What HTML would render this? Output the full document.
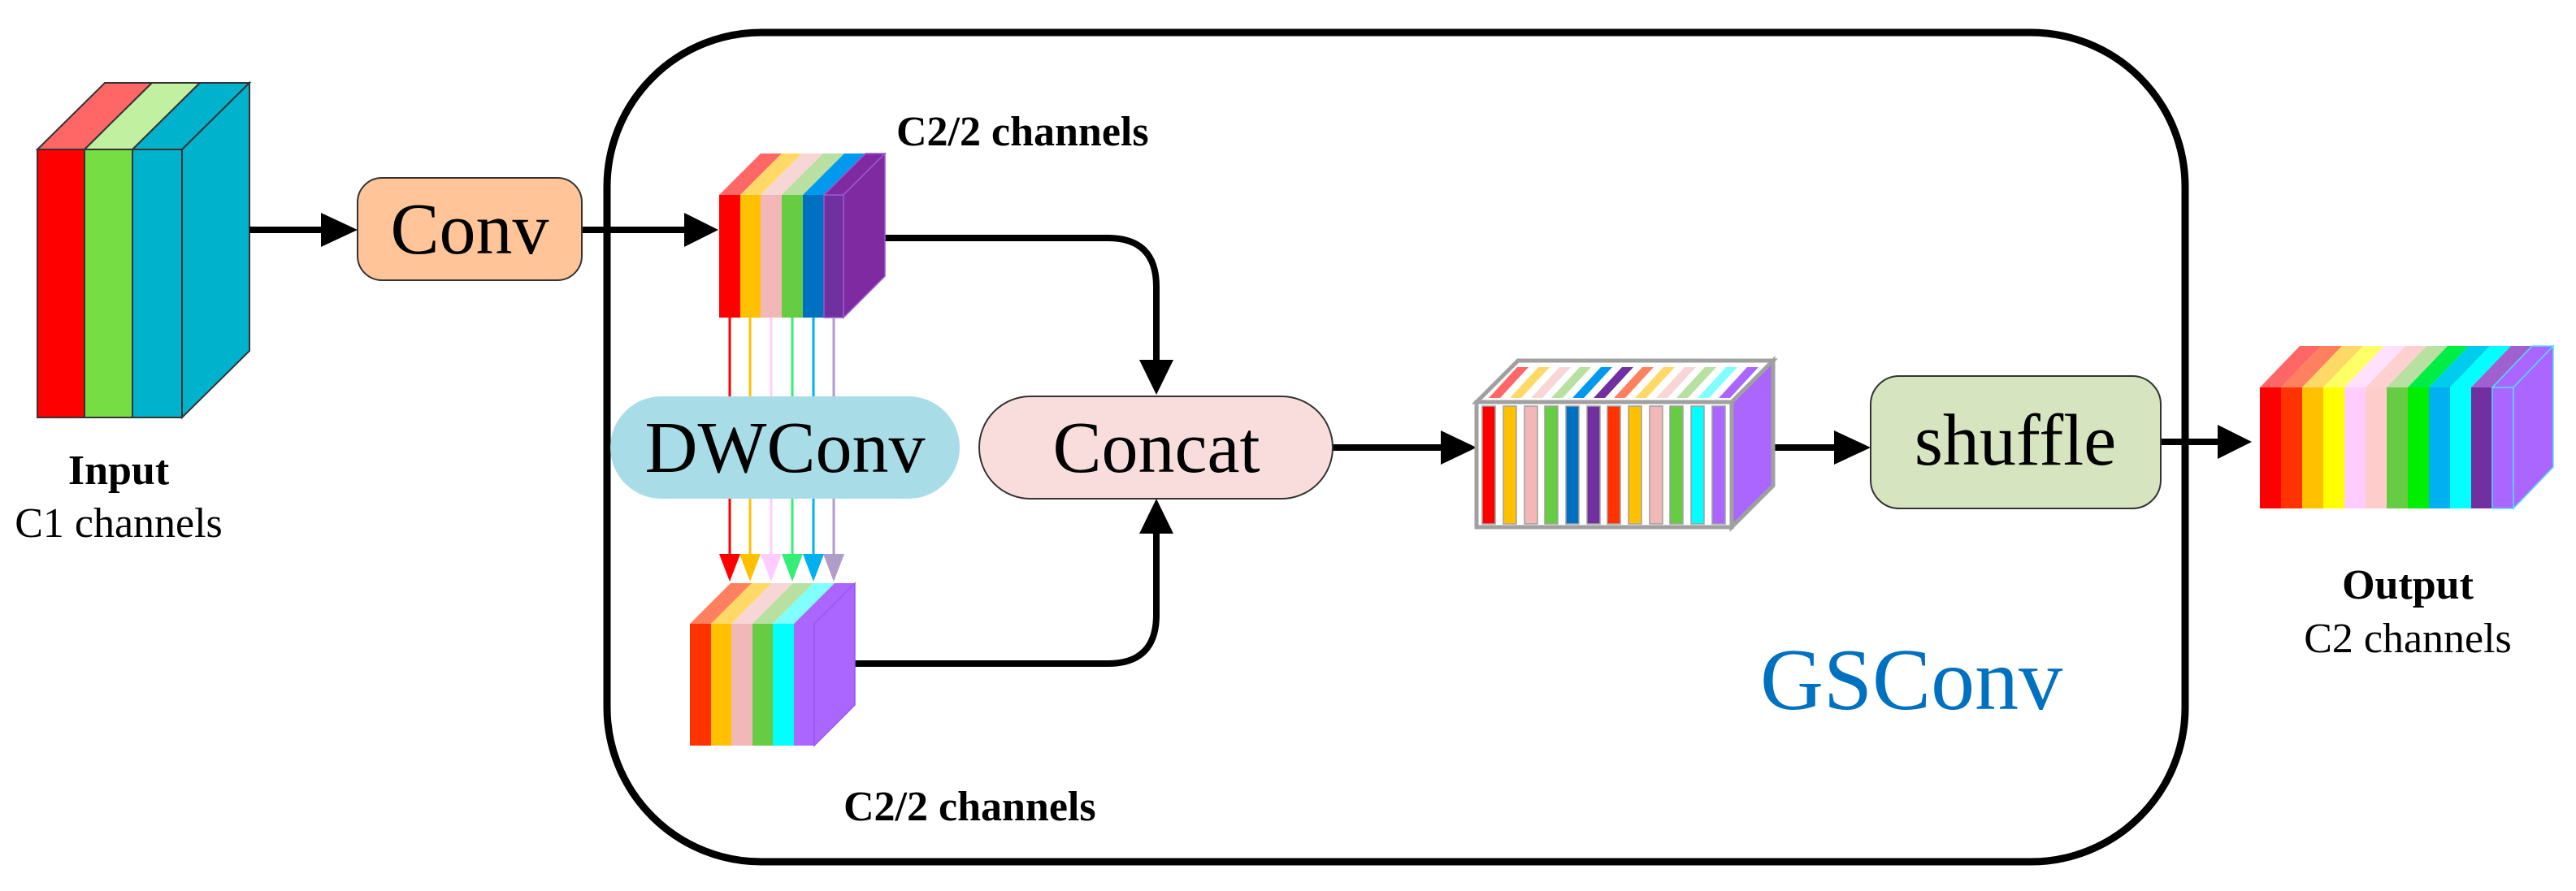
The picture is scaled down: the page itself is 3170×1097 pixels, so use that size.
<!DOCTYPE html>
<html><head><meta charset="utf-8"><style>
html,body{margin:0;padding:0;background:#fff;}
svg{display:block;font-family:"Liberation Serif","Times New Roman","DejaVu Serif",serif;}
svg text{font-family:"Liberation Serif","Times New Roman","DejaVu Serif",serif;}
</style></head><body>
<svg width="3170" height="1097" viewBox="0 0 3170 1097" xmlns="http://www.w3.org/2000/svg" font-family="Liberation Serif, Times New Roman, DejaVu Serif, serif">
<!-- GSConv frame -->
<rect x="747" y="40" width="1942" height="1021" rx="190" ry="190" fill="none" stroke="#000" stroke-width="9"/>

<!-- Input cube -->
<g stroke="#333" stroke-width="2">
<rect x="46" y="184" width="58" height="330" fill="#ff0000"/>
<rect x="104" y="184" width="59" height="330" fill="#77dd44"/>
<rect x="163" y="184" width="61" height="330" fill="#00b2cc"/>
<polygon points="46,184 104,184 187,102 129,102" fill="#ff6666"/>
<polygon points="104,184 163,184 246,102 187,102" fill="#c0f0a0"/>
<polygon points="163,184 224,184 307,102 246,102" fill="#00b2cc"/>
<polygon points="224,184 307,102 307,432 224,514" fill="#00b2cc"/>
</g>
<text x="146" y="596" font-size="52" font-weight="bold" text-anchor="middle" font-family="Liberation Serif, serif">Input</text>
<text x="146" y="661" font-size="52" text-anchor="middle" font-family="Liberation Serif, serif">C1 channels</text>

<!-- arrows -->
<g stroke="#000" stroke-width="8" fill="none">
<line x1="307" y1="283" x2="400" y2="283"/>
<line x1="716" y1="283" x2="846" y2="283"/>
<line x1="1640" y1="551" x2="1778" y2="551"/>
<line x1="2182" y1="551" x2="2262" y2="551"/>
<line x1="2659" y1="544" x2="2734" y2="544"/>
<path d="M1089,293 H1363 Q1423,293 1423,353 V446"/>
<path d="M1052,817 H1363 Q1423,817 1423,757 V654"/>
</g>
<g fill="#000">
<polygon points="395,262 440,283 395,304"/>
<polygon points="842,262 884,283 842,304"/>
<polygon points="1773,530 1817,551 1773,572"/>
<polygon points="2257,530 2302,551 2257,572"/>
<polygon points="2729,523 2771,544 2729,565"/>
<polygon points="1402,443 1444,443 1423,486"/>
<polygon points="1402,657 1444,657 1423,614"/>
</g>

<!-- Conv -->
<rect x="440" y="219" width="276" height="126" rx="30" fill="#ffc599" stroke="#333" stroke-width="2"/>
<text x="578" y="312" font-size="90" text-anchor="middle" font-family="Liberation Serif, serif">Conv</text>

<!-- Cube1 -->
<g stroke-width="1.5">
<rect x="885" y="240" width="26" height="151" fill="#ff0000"/>
<rect x="911" y="240" width="25" height="151" fill="#ffc000"/>
<rect x="936" y="240" width="26" height="151" fill="#f2b8b8"/>
<rect x="962" y="240" width="26" height="151" fill="#66cc44"/>
<rect x="988" y="240" width="26" height="151" fill="#0070c0"/>
<rect x="1014" y="240" width="24" height="151" fill="#7030a0" stroke="#9a5ad0"/>
<polygon points="885,240 911,240 962,189 936,189" fill="#ff6666"/>
<polygon points="911,240 936,240 987,189 962,189" fill="#ffd966"/>
<polygon points="936,240 962,240 1013,189 987,189" fill="#f8d6d6"/>
<polygon points="962,240 988,240 1039,189 1013,189" fill="#b8e0a0"/>
<polygon points="988,240 1014,240 1065,189 1039,189" fill="#0099ee"/>
<polygon points="1014,240 1038,240 1089,189 1065,189" fill="#7f2aa0" stroke="#9a5ad0"/>
<polygon points="1038,240 1089,189 1089,340 1038,391" fill="#7f2aa0" stroke="#9a5ad0"/>
</g>
<text x="1103" y="179" font-size="52" font-weight="bold" font-family="Liberation Serif, serif">C2/2 channels</text>

<!-- colored DW lines -->
<g stroke-width="3">
<line x1="898" y1="391" x2="898" y2="685" stroke="#ff0000"/>
<line x1="923" y1="391" x2="923" y2="685" stroke="#ffc000"/>
<line x1="949" y1="391" x2="949" y2="685" stroke="#ffccff"/>
<line x1="975" y1="391" x2="975" y2="685" stroke="#33ee77"/>
<line x1="1001" y1="391" x2="1001" y2="685" stroke="#00b0f0"/>
<line x1="1026" y1="391" x2="1026" y2="685" stroke="#b09cc8"/>
</g>
<polygon points="885,682 911,682 898,716" fill="#ff0000"/>
<polygon points="910,682 936,682 923,716" fill="#ffc000"/>
<polygon points="936,682 962,682 949,716" fill="#ffccff"/>
<polygon points="962,682 988,682 975,716" fill="#33ee77"/>
<polygon points="988,682 1014,682 1001,716" fill="#00b0f0"/>
<polygon points="1013,682 1039,682 1026,716" fill="#b09cc8"/>

<!-- DWConv -->
<rect x="751" y="488" width="430" height="126" rx="63" fill="#a8dde8"/>
<text x="966" y="581" font-size="90" text-anchor="middle" font-family="Liberation Serif, serif">DWConv</text>

<!-- Concat -->
<rect x="1205" y="488" width="435" height="126" rx="63" fill="#f9dcdc" stroke="#333" stroke-width="2"/>
<text x="1423" y="581" font-size="90" text-anchor="middle" font-family="Liberation Serif, serif">Concat</text>

<!-- Cube2 -->
<g>
<rect x="849" y="768" width="26" height="150" fill="#ff3300"/>
<rect x="875" y="768" width="25" height="150" fill="#ffc000"/>
<rect x="900" y="768" width="26" height="150" fill="#f2b8b8"/>
<rect x="926" y="768" width="25" height="150" fill="#66cc44"/>
<rect x="951" y="768" width="26" height="150" fill="#00ffff"/>
<rect x="977" y="768" width="25" height="150" fill="#aa66ff"/>
<polygon points="849,768 875,768 925,718 899,718" fill="#ff8060"/>
<polygon points="875,768 900,768 950,718 925,718" fill="#ffd966"/>
<polygon points="900,768 926,768 976,718 950,718" fill="#f8d6d6"/>
<polygon points="926,768 951,768 1001,718 976,718" fill="#b8e0a0"/>
<polygon points="951,768 977,768 1027,718 1001,718" fill="#80ffff"/>
<polygon points="977,768 1002,768 1052,718 1027,718" fill="#aa66ff"/>
<polygon points="1002,768 1052,718 1052,868 1002,918" fill="#aa66ff" stroke="#9955ee" stroke-width="1.5"/>
</g>
<text x="1038" y="1010" font-size="52" font-weight="bold" font-family="Liberation Serif, serif">C2/2 channels</text>

<!-- Cube3 -->
<g>
<polygon points="1817,495 2131,495 2182,444 1868,444" fill="#fff" stroke="#a0a0a0" stroke-width="5"/>
<polygon points="2131,495 2182,444 2182,598 2131,649" fill="#aa66ff" stroke="#a0a0a0" stroke-width="5"/>
<rect x="1817" y="495" width="314" height="154" fill="#fff" stroke="#a0a0a0" stroke-width="5"/>
<g stroke="#a0a0a0" stroke-width="1.5">
<rect x="1824" y="500" width="16" height="145" fill="#ff0000"/>
<rect x="1850" y="500" width="16" height="145" fill="#ffc000"/>
<rect x="1876" y="500" width="16" height="145" fill="#f2b8b8"/>
<rect x="1901" y="500" width="16" height="145" fill="#66cc44"/>
<rect x="1927" y="500" width="16" height="145" fill="#0070c0"/>
<rect x="1953" y="500" width="16" height="145" fill="#7030a0"/>
<rect x="1978" y="500" width="16" height="145" fill="#ff3300"/>
<rect x="2004" y="500" width="16" height="145" fill="#ffc000"/>
<rect x="2030" y="500" width="16" height="145" fill="#f2b8b8"/>
<rect x="2055" y="500" width="16" height="145" fill="#66cc44"/>
<rect x="2081" y="500" width="16" height="145" fill="#00ffff"/>
<rect x="2107" y="500" width="16" height="145" fill="#aa66ff"/>
</g>
<g>
<polygon points="1832,490 1846,490 1881,452 1867,452" fill="#ff6666"/>
<polygon points="1858,490 1872,490 1907,452 1893,452" fill="#ffd966"/>
<polygon points="1884,490 1898,490 1933,452 1919,452" fill="#f8d6d6"/>
<polygon points="1909,490 1923,490 1958,452 1944,452" fill="#b8e0a0"/>
<polygon points="1935,490 1949,490 1984,452 1970,452" fill="#0099ee"/>
<polygon points="1961,490 1975,490 2010,452 1996,452" fill="#7030a0"/>
<polygon points="1986,490 2000,490 2035,452 2021,452" fill="#ff8060"/>
<polygon points="2012,490 2026,490 2061,452 2047,452" fill="#ffd966"/>
<polygon points="2038,490 2052,490 2087,452 2073,452" fill="#f8d6d6"/>
<polygon points="2063,490 2077,490 2112,452 2098,452" fill="#b8e0a0"/>
<polygon points="2089,490 2103,490 2138,452 2124,452" fill="#80ffff"/>
<polygon points="2115,490 2129,490 2164,452 2150,452" fill="#aa66ff"/>
</g>
</g>

<!-- shuffle -->
<rect x="2302" y="463" width="357" height="163" rx="35" fill="#d6e4c0" stroke="#333" stroke-width="2"/>
<text x="2480" y="572" font-size="90" text-anchor="middle" font-family="Liberation Serif, serif">shuffle</text>

<!-- GSConv label -->
<text x="2166" y="873" font-size="108" fill="#0070c0" font-family="Liberation Serif, serif">GSConv</text>

<!-- Output cube -->
<g>
<rect x="2781" y="477" width="26" height="149" fill="#ff0000"/>
<rect x="2807" y="477" width="26" height="149" fill="#ff3300"/>
<rect x="2833" y="477" width="26" height="149" fill="#ffc000"/>
<rect x="2859" y="477" width="26" height="149" fill="#ffff00"/>
<rect x="2885" y="477" width="26" height="149" fill="#ffccff"/>
<rect x="2911" y="477" width="26" height="149" fill="#ffcccc"/>
<rect x="2937" y="477" width="26" height="149" fill="#66cc44"/>
<rect x="2963" y="477" width="26" height="149" fill="#00ee00"/>
<rect x="2989" y="477" width="26" height="149" fill="#00b0f0"/>
<rect x="3015" y="477" width="26" height="149" fill="#00ffff"/>
<rect x="3041" y="477" width="26" height="149" fill="#7030a0"/>
<rect x="3067" y="477" width="26" height="149" fill="#aa66ff" stroke="#55ddff" stroke-width="1.5"/>
<polygon points="2781,477 2807,477 2856,426 2830,426" fill="#ff6666"/>
<polygon points="2807,477 2833,477 2882,426 2856,426" fill="#ff8060"/>
<polygon points="2833,477 2859,477 2908,426 2882,426" fill="#ffd966"/>
<polygon points="2859,477 2885,477 2934,426 2908,426" fill="#ffff66"/>
<polygon points="2885,477 2911,477 2960,426 2934,426" fill="#ffe0ff"/>
<polygon points="2911,477 2937,477 2986,426 2960,426" fill="#ffd0d0"/>
<polygon points="2937,477 2963,477 3012,426 2986,426" fill="#b8e0a0"/>
<polygon points="2963,477 2989,477 3038,426 3012,426" fill="#00ee44"/>
<polygon points="2989,477 3015,477 3064,426 3038,426" fill="#00ccee"/>
<polygon points="3015,477 3041,477 3090,426 3064,426" fill="#00ffff"/>
<polygon points="3041,477 3067,477 3116,426 3090,426" fill="#a060d0"/>
<polygon points="3067,477 3093,477 3142,426 3116,426" fill="#aa66ff" stroke="#55ddff" stroke-width="1.5"/>
<polygon points="3093,477 3142,426 3142,575 3093,626" fill="#aa66ff" stroke="#55ddff" stroke-width="1.5"/>
</g>
<text x="2963" y="737" font-size="52" font-weight="bold" text-anchor="middle" font-family="Liberation Serif, serif">Output</text>
<text x="2963" y="803" font-size="52" text-anchor="middle" font-family="Liberation Serif, serif">C2 channels</text>
</svg>
</body></html>
